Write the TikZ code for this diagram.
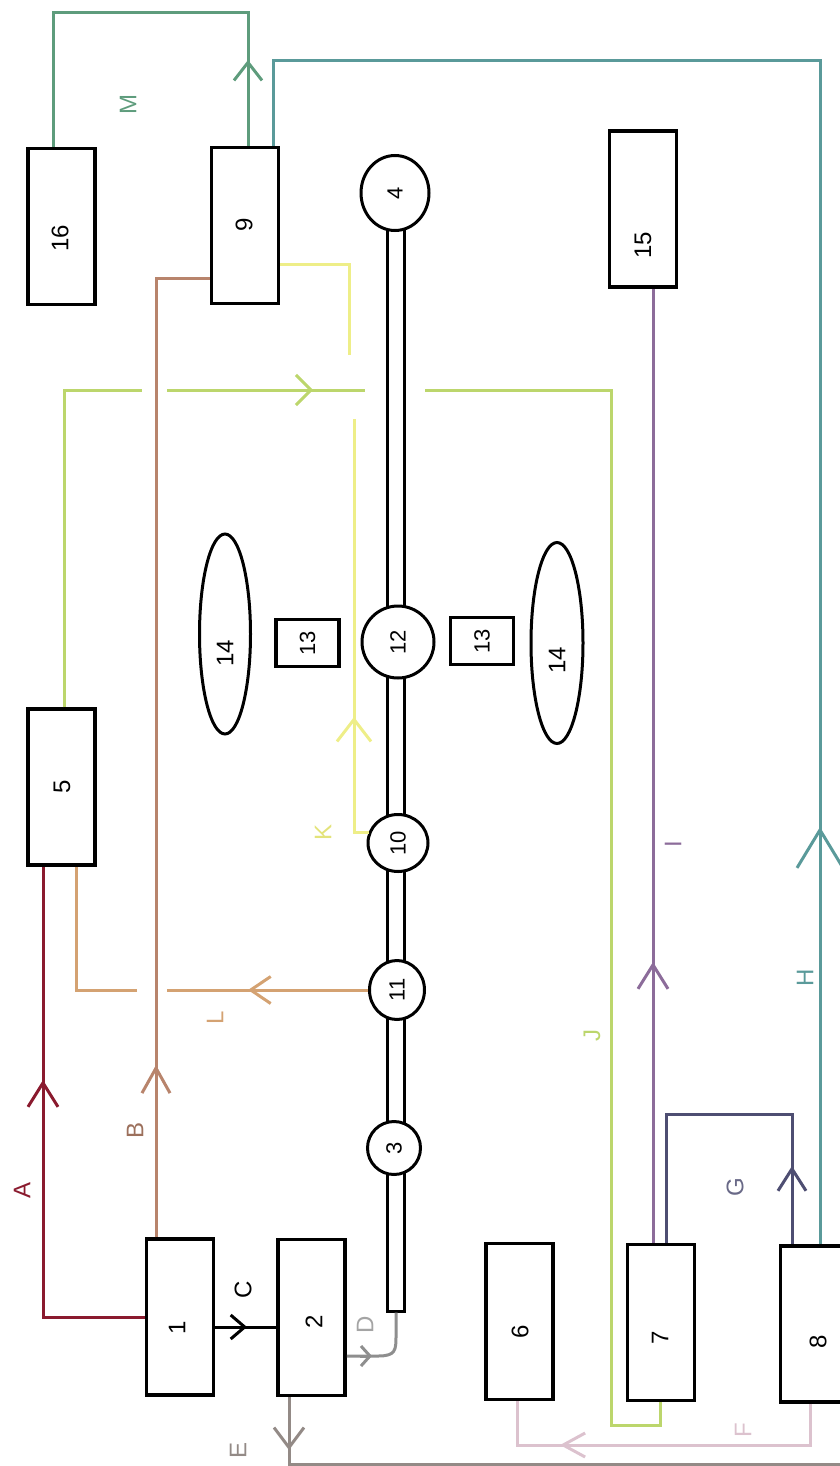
\documentclass[tikz,border=0pt]{standalone}
\usepackage{fontspec}
\setmainfont{Liberation Sans}
\usepackage{graphicx}
\usetikzlibrary{arrows.meta,shapes.geometric}
\definecolor{cA}{HTML}{8A1A2E}
\definecolor{cB}{HTML}{B8846C}
\definecolor{cD}{HTML}{8E8E8E}
\definecolor{cE}{HTML}{938A86}
\definecolor{cF}{HTML}{DCC2CE}
\definecolor{cG}{HTML}{4E4E72}
\definecolor{cH}{HTML}{5A9A9A}
\definecolor{cI}{HTML}{8C6C9A}
\definecolor{cJ}{HTML}{BCD66C}
\definecolor{cK}{HTML}{EEEE88}
\definecolor{cL}{HTML}{D4A272}
\definecolor{cM}{HTML}{5E9C7C}
\begin{document}
\begin{tikzpicture}[x=1pt,y=-1pt,
  box/.style={draw=black,line width=3.5pt,minimum width=67pt,minimum height=156pt,inner sep=0pt,fill=white},
  sbox/.style={draw=black,line width=3.5pt,minimum width=63pt,minimum height=47pt,inner sep=0pt,fill=white,font=\fontsize{22}{22}\selectfont},
  circ/.style={ellipse,draw=black,line width=3pt,inner sep=0pt,fill=white,font=\fontsize{22}{22}\selectfont},
  lab/.style={rotate=90,inner sep=0pt,font=\fontsize{24}{24}\selectfont},
  conn/.style={line width=3pt},
  barb/.style n args={2}{line width=3pt,-{Straight Barb[length=#1,width=#2,line width=3pt]}}
]
\useasboundingbox (0,0) rectangle (840,1466);
\clip (0,0) rectangle (840,1466);

% pipe
\node[draw=black,line width=3pt,minimum width=17pt,minimum height=1106pt,inner sep=0pt] (pipe) at (396,758) {};

% boxes
\node[box] (b16) at (61.5,226.5) {};
\node[box] (b9)  at (245,225.5) {};
\node[box] (b15) at (643,209) {};
\node[box] (b5)  at (61.5,787) {};
\node[box] (b1)  at (180,1317) {};
\node[box] (b2)  at (311.5,1317.5) {};
\node[box] (b6)  at (519.5,1321.5) {};
\node[box] (b7)  at (661,1322.5) {};
\node[box] (b8)  at (814,1324) {};
\node[sbox] (b13a) at (307.5,643) {\rotatebox{90}{13}};
\node[sbox] (b13b) at (482,641) {\rotatebox{90}{13}};
\node[ellipse,draw=black,line width=3pt,minimum width=51pt,minimum height=200pt,inner sep=0pt] (e14a) at (225,634) {};
\node[ellipse,draw=black,line width=3pt,minimum width=52pt,minimum height=201pt,inner sep=0pt] (e14b) at (557,643) {};

% circles on the pipe
\node[circ,minimum width=68pt,minimum height=75pt] (c4)  at (395,193) {\rotatebox{90}{4}};
\node[circ,minimum width=72pt,minimum height=72pt] (c12) at (398,642) {\rotatebox{90}{12}};
\node[circ,minimum width=60pt,minimum height=57pt] (c10) at (398,843) {\rotatebox{90}{10}};
\node[circ,minimum width=55pt,minimum height=59pt] (c11) at (397,990) {\rotatebox{90}{11}};
\node[circ,minimum width=53pt,minimum height=53pt] (c3)  at (394,1148) {\rotatebox{90}{3}};

% box labels
\node[lab] (t16) at (60,238) {16};
\node[lab] (t9)  at (244,225) {9};
\node[lab] (t15) at (643,245) {15};
\node[lab] (t5)  at (62,787) {5};
\node[lab] (t1)  at (177,1328) {1};
\node[lab] (t2)  at (314,1322) {2};
\node[lab] (t6)  at (520,1332) {6};
\node[lab] (t7)  at (660,1338) {7};
\node[lab] (t8)  at (818,1342) {8};
\node[lab] (t14a) at (225,653) {14};
\node[lab] (t14b) at (557,660) {14};

% M
\draw[conn,cM] (b9.north -| 248,0) -- (248,13) -- (53,13) -- (b16.north -| 53,0);
\draw[barb={18pt}{28pt},cM] (248,80) -- (248,60);
% H
\draw[conn,cH] (b8.north -| 820,0) -- (820,61) -- (273,61) -- (b9.north -| 273,0);
\draw[barb={38pt}{46pt},cH] (820,870) -- (820,827);
% B
\draw[conn,cB] (b1.north -| 156,0) -- (156,278) -- (b9.west |- 0,278);
\draw[barb={25pt}{28pt},cB] (156,1090) -- (156,1065);
% K
\draw[conn,cK] (c10.160) -- (c10.160 -| 354,0) -- (354,419);
\draw[conn,cK] (349,355) -- (349,264) -- (b9.east |- 0,264);
\draw[barb={22pt}{34pt},cK] (354,740) -- (354,717);
% J
\draw[conn,cJ] (b5.north -| 64,0) -- (64,390) -- (142,390);
\draw[conn,cJ] (167,390) -- (365,390);
\draw[conn,cJ] (425,390) -- (611,390) -- (611,1425) -- (660,1425) -- (b7.south -| 660,0);
\draw[barb={15pt}{30pt},cJ] (295,390) -- (313,390);
% L
\draw[conn,cL] (c11.west) -- (c11.west -| 167,0);
\draw[conn,cL] (137,990) -- (76,990) -- (b5.south -| 76,0);
\draw[barb={20pt}{27pt},cL] (270,990) -- (248,990);
% A
\draw[conn,cA] (b1.west) -- (43,1317) -- (b5.south -| 43,0);
\draw[barb={24pt}{30pt},cA] (43,1105) -- (43,1080);
% C
\draw[conn,black] (b1.east |- 0,1327) -- (b2.west |- 0,1327);
\draw[barb={14pt}{24pt},black] (230,1327) -- (247,1327);
% D
\draw[conn,cD] (b2.east |- 0,1356) -- (378,1356) .. controls (396,1356) and (396,1350) .. (396,1335) -- (pipe.south);
\draw[barb={9pt}{20pt},cD] (360,1356) -- (372,1356);
% E
\coordinate (eEnd) at (850,1464);
\draw[conn,cE] (b2.south -| 289,0) -- (289,1464) -- (eEnd);
\draw[barb={20pt}{30pt},cE] (289,1425) -- (289,1450);
% F
\draw[conn,cF] (b8.south -| 810,0) -- (810,1445) -- (517,1445) -- (b6.south -| 517,0);
\draw[barb={22pt}{24pt},cF] (585,1445) -- (560,1445);
% G
\draw[conn,cG] (b8.north -| 792,0) -- (792,1114) -- (666,1114) -- (b7.north -| 666,0);
\draw[barb={22pt}{28pt},cG] (792,1190) -- (792,1166);
% I
\draw[conn,cI] (b7.north -| 653,0) -- (b15.south -| 653,0);
\draw[barb={24pt}{30pt},cI] (653,990) -- (653,962);

% connector labels
\node[lab,text=cA] (lA) at (22,1190) {A};
\node[lab,text=cB!85!black] (lB) at (135,1130) {B};
\node[lab,text=black] (lC) at (243,1290) {C};
\node[lab,text=cD!80] (lD) at (365,1325) {D};
\node[lab,text=cE] (lE) at (238,1450) {E};
\node[lab,text=cF] (lF) at (743,1430) {F};
\node[lab,text=cG!85] (lG) at (735,1187) {G};
\node[lab,text=cH] (lH) at (805,978) {H};
\node[lab,text=cI] (lI) at (673,844) {I};
\node[lab,text=cJ] (lJ) at (592,1035) {J};
\node[lab,text=cK!90!olive] (lK) at (323,832) {K};
\node[lab,text=cL] (lL) at (215,1018) {L};
\node[lab,text=cM] (lM) at (128,105) {M};
\end{tikzpicture}
\end{document}
